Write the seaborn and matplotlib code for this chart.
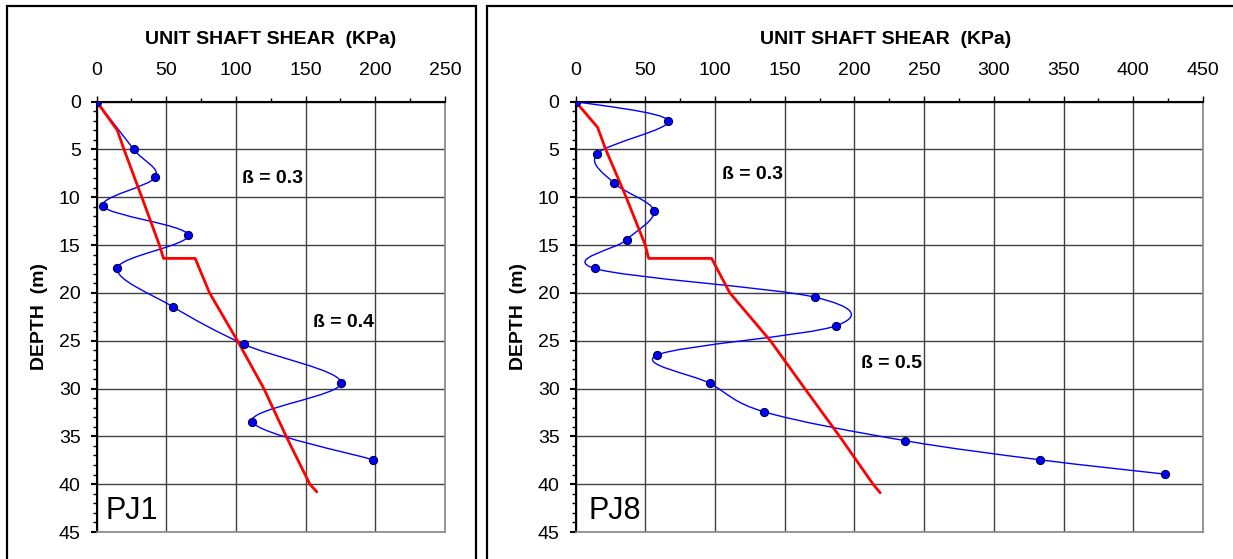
import numpy as np
import pandas as pd
import matplotlib
matplotlib.use('Agg')
import matplotlib.pyplot as plt
from matplotlib.path import Path
from matplotlib.patches import PathPatch, Rectangle
from matplotlib.ticker import MultipleLocator
import seaborn as sns

# PJ1 measured unit shaft shear (blue) and beta-method estimate (red)
pj1_depth = [0, 5.0, 7.9, 10.95, 13.95, 17.4, 21.45, 25.4, 29.4, 33.45, 37.45]
pj1_shear = [0, 26.6, 42.2, 4.8, 65.6, 14.9, 54.6, 106, 175.5, 111.6, 198.2]
pj1_beta_depth = [0, 3.0, 5, 10, 15, 16.4, 16.4, 20, 25, 30, 35, 40, 40.8]
pj1_beta_shear = [0, 14.8, 19.6, 32.4, 45, 48, 70.7, 81, 101, 120, 136, 153, 158]

# PJ8
pj8_depth = [0, 2.0, 5.45, 8.5, 11.4, 14.45, 17.45, 20.45, 23.45, 26.5, 29.45,
             32.45, 35.45, 37.45, 38.95]
pj8_shear = [0, 66.5, 15.5, 27.3, 56.2, 36.7, 13.7, 171.5, 186.8, 58.5, 96.2,
             135.5, 236.2, 333, 422.7]
pj8_beta_depth = [0, 2.7, 5, 10, 15, 16.4, 16.4, 20, 25, 30, 35, 40, 40.9]
pj8_beta_shear = [0, 15.8, 21.6, 36.3, 50, 52.4, 97.6, 110.6, 139.7, 164.4, 189.4, 213.4, 218.5]

sns.set_style("white")
plt.rcParams['font.family'] = ['Liberation Sans', 'DejaVu Sans']
plt.rcParams.update({'text.color': 'black', 'axes.labelcolor': 'black',
                     'xtick.color': 'black', 'ytick.color': 'black'})


def smooth_path(xs, ys):
    # Excel-like smoothed line: cubic Bezier with Catmull-Rom tangents
    pts = np.column_stack([xs, ys]).astype(float)
    n = len(pts)
    verts = [pts[0]]
    codes = [Path.MOVETO]
    for i in range(n - 1):
        p0 = pts[max(i - 1, 0)]
        p1 = pts[i]
        p2 = pts[i + 1]
        p3 = pts[min(i + 2, n - 1)]
        c1 = p1 + (p2 - p0) / 6.0
        c2 = p2 - (p3 - p1) / 6.0
        verts += [c1, c2, p2]
        codes += [Path.CURVE4] * 3
    return Path(verts, codes)


def draw_panel(ax, depth, shear, bdepth, bshear, xmax, name, name_x, betas):
    ax.add_patch(PathPatch(smooth_path(shear, depth), fill=False,
                           edgecolor='#0000ff', lw=1.0, zorder=3))
    red = pd.DataFrame({'shear': bshear, 'depth': bdepth})
    sns.lineplot(data=red, x='shear', y='depth', sort=False, estimator=None,
                 color='#ff0000', lw=2.0, ax=ax, zorder=4)
    pts = pd.DataFrame({'shear': shear, 'depth': depth})
    sns.scatterplot(data=pts, x='shear', y='depth', color='#0000ff',
                    edgecolor='#000040', linewidth=0.8, s=34, ax=ax, zorder=5)

    ax.set_xlim(0, xmax)
    ax.set_ylim(45, 0)
    ax.xaxis.tick_top()
    ax.xaxis.set_major_locator(MultipleLocator(50))
    ax.xaxis.set_minor_locator(MultipleLocator(25))
    ax.yaxis.set_major_locator(MultipleLocator(5))
    ax.yaxis.set_minor_locator(MultipleLocator(1))
    ax.tick_params(axis='x', which='major', direction='out', length=4.5, width=1,
                   pad=12, labelsize=14, top=True, bottom=False)
    ax.tick_params(axis='x', which='minor', direction='out', length=3, width=1,
                   top=True, bottom=False)
    ax.tick_params(axis='y', which='major', direction='out', length=4.5, width=1.5,
                   pad=7, labelsize=14, left=True)
    ax.tick_params(axis='y', which='minor', direction='out', length=3, width=1,
                   left=True)
    ax.grid(True, which='major', color='#404040', lw=1.0)
    ax.set_axisbelow(True)
    for s in ['top', 'left']:
        ax.spines[s].set_color('black')
        ax.spines[s].set_linewidth(1.5)
    for s in ['right', 'bottom']:
        ax.spines[s].set_color('#888888')
        ax.spines[s].set_linewidth(1.2)

    ax.set_xlabel('UNIT SHAFT SHEAR  (KPa)', fontsize=14, fontweight='bold')
    ax.xaxis.set_label_position('top')
    ax.set_ylabel('DEPTH  (m)', fontsize=14, fontweight='bold')

    ax.text(name_x, 43.6, name, fontsize=22, ha='left', va='baseline', zorder=6)
    for bx, by, label in betas:
        ax.text(bx, by, label, fontsize=14, fontweight='bold', ha='center',
                va='center', zorder=6)


fig = plt.figure(figsize=(12.33, 5.59), dpi=100)
ax1 = fig.add_axes([0.0784, 0.0483, 0.2825, 0.7701])
ax2 = fig.add_axes([0.4668, 0.0483, 0.5088, 0.7701])

draw_panel(ax1, pj1_depth, pj1_shear, pj1_beta_depth, pj1_beta_shear, 250, 'PJ1', 6,
           [(126, 8.0, 'ß = 0.3'), (177.4, 23.1, 'ß = 0.4')])
draw_panel(ax2, pj8_depth, pj8_shear, pj8_beta_depth, pj8_beta_shear, 450, 'PJ8', 9.6,
           [(126.8, 7.6, 'ß = 0.3'), (226.8, 27.4, 'ß = 0.5')])

ax1.xaxis.set_label_coords(0.5, 1.133)
ax2.xaxis.set_label_coords(0.495, 1.133)
ax1.yaxis.set_label_coords(-0.14, 0.5)
ax2.yaxis.set_label_coords(-0.078, 0.5)

# panel frames
fig.add_artist(Rectangle((7 / 1233, -0.02), 469 / 1233, 1.0084, transform=fig.transFigure,
                         fill=False, edgecolor='black', lw=1.6))
fig.add_artist(Rectangle((487 / 1233, -0.02), 0.62, 1.0084, transform=fig.transFigure,
                         fill=False, edgecolor='black', lw=1.6))

plt.savefig('out.png', dpi=100)
